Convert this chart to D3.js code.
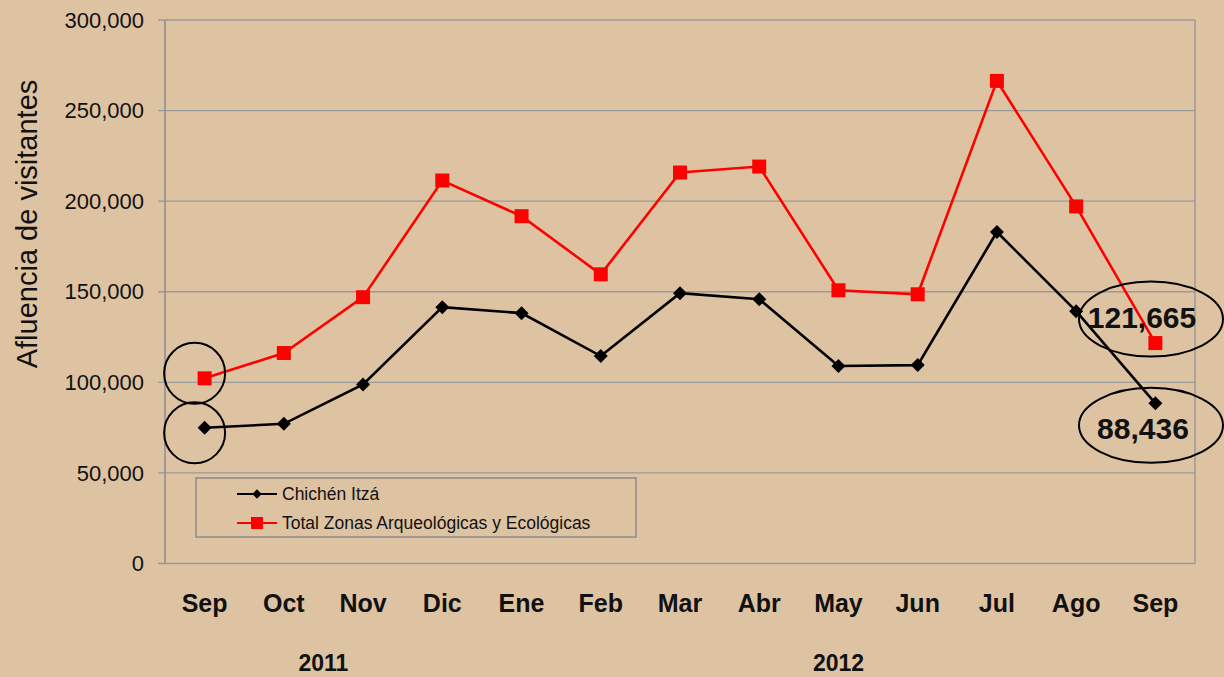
<!DOCTYPE html>
<html lang="es">
<head>
<meta charset="UTF-8">
<title>Afluencia de visitantes</title>
<script src="https://d3js.org/d3.v7.min.js"></script>
<style>
    body { margin: 0; background: #dec3a2; }
    text { font-family: "Liberation Sans", Arial, sans-serif; }
</style>
</head>
<body>
<script>
    // Data
    var months = ["Sep", "Oct", "Nov", "Dic", "Ene", "Feb", "Mar", "Abr", "May", "Jun", "Jul", "Ago", "Sep"];
    var chichen = [74900, 77100, 98800, 141500, 138200, 114500, 149200, 145900, 109000, 109500, 183000, 139300, 88436];
    var total = [102200, 116200, 147000, 211400, 191700, 159600, 215800, 219100, 150800, 148600, 266400, 197100, 121665];
    var yTicks = [0, 50000, 100000, 150000, 200000, 250000, 300000];
    var years = [{ label: "2011", from: 0, to: 3 }, { label: "2012", from: 4, to: 12 }];

    var width = 1224, height = 677;
    var plot = { left: 165, right: 1195, top: 20, bottom: 563.5 };

    var svg = d3.select("body").append("svg")
        .attr("width", width)
        .attr("height", height);

    svg.append("rect").attr("width", width).attr("height", height).attr("fill", "#dec3a2");

    var x = d3.scaleBand().domain(d3.range(months.length)).range([plot.left, plot.right]);
    var y = d3.scaleLinear().domain([0, 300000]).range([plot.bottom, plot.top]);
    var fmt = d3.format(",");

    // gridlines
    svg.append("g").selectAll("line")
        .data(yTicks)
        .join("line")
        .attr("x1", plot.left - 7).attr("x2", plot.right)
        .attr("y1", d => y(d)).attr("y2", d => y(d))
        .attr("stroke", "#9a9a9a").attr("stroke-width", 1.3);

    svg.append("line").attr("x1", plot.left).attr("x2", plot.left).attr("y1", plot.top).attr("y2", plot.bottom)
        .attr("stroke", "#8c8c8c").attr("stroke-width", 1.5);
    svg.append("line").attr("x1", plot.right).attr("x2", plot.right).attr("y1", plot.top).attr("y2", plot.bottom)
        .attr("stroke", "#9a9a9a").attr("stroke-width", 1.5);

    // y tick labels
    svg.append("g").selectAll("text")
        .data(yTicks)
        .join("text")
        .attr("x", plot.left - 21)
        .attr("y", d => y(d))
        .attr("dy", "0.35em")
        .attr("text-anchor", "end")
        .style("font-size", "22px")
        .attr("fill", "#111")
        .text(d => fmt(d));

    svg.append("text")
        .attr("transform", "translate(37,224) rotate(-90)")
        .attr("text-anchor", "middle")
        .style("font-size", "29px")
        .attr("fill", "#111")
        .text("Afluencia de visitantes");

    // x labels
    svg.append("g").selectAll("text")
        .data(months)
        .join("text")
        .attr("x", (d, i) => x(i) + x.bandwidth() / 2)
        .attr("y", 612)
        .attr("text-anchor", "middle")
        .style("font-size", "25px")
        .style("font-weight", "bold")
        .attr("fill", "#111")
        .text(d => d);

    svg.append("g").selectAll("text")
        .data(years)
        .join("text")
        .attr("x", d => (x(d.from) + x(d.to) + x.bandwidth()) / 2)
        .attr("y", 671)
        .attr("text-anchor", "middle")
        .style("font-size", "23px")
        .style("font-weight", "bold")
        .attr("fill", "#111")
        .text(d => d.label);

    var cx = i => x(i) + x.bandwidth() / 2;
    var line = d3.line().x((d, i) => cx(i)).y(d => y(d));

    // series lines
    svg.append("path").datum(total)
        .attr("d", line).attr("fill", "none")
        .attr("stroke", "#ff0000").attr("stroke-width", 2.6);
    svg.append("path").datum(chichen)
        .attr("d", line).attr("fill", "none")
        .attr("stroke", "#000").attr("stroke-width", 2.6);

    // markers
    svg.append("g").selectAll("rect")
        .data(total)
        .join("rect")
        .attr("x", (d, i) => cx(i) - 7)
        .attr("y", d => y(d) - 7)
        .attr("width", 14).attr("height", 14)
        .attr("fill", "#ff0000");

    var diamond = d3.symbol().type(d3.symbolDiamond2).size(125);
    svg.append("g").selectAll("path")
        .data(chichen)
        .join("path")
        .attr("transform", (d, i) => "translate(" + cx(i) + "," + y(d) + ")")
        .attr("d", diamond)
        .attr("fill", "#000");

    // highlight circles around first month
    var first = cx(0) - 10;
    svg.append("circle").attr("cx", first).attr("cy", y(total[0]) - 5).attr("r", 30.5)
        .attr("fill", "none").attr("stroke", "#000").attr("stroke-width", 2);
    svg.append("circle").attr("cx", first).attr("cy", y(chichen[0]) + 5).attr("r", 30.5)
        .attr("fill", "none").attr("stroke", "#000").attr("stroke-width", 2);

    // ellipses with last values
    var last = months.length - 1;
    var callouts = [
        { v: total[last], cy: y(total[last]) - 24, tx: 1142, ty: 317 },
        { v: chichen[last], cy: y(chichen[last]) + 22, tx: 1143, ty: 428 }
    ];
    callouts.forEach(function (c) {
        svg.append("ellipse").attr("cx", 1151).attr("cy", c.cy).attr("rx", 72).attr("ry", 37.5)
            .attr("fill", "none").attr("stroke", "#000").attr("stroke-width", 2);
        svg.append("text")
            .attr("x", c.tx).attr("y", c.ty)
            .attr("dy", "0.35em")
            .attr("text-anchor", "middle")
            .style("font-size", "30px")
            .style("font-weight", "bold")
            .attr("fill", "#111")
            .text(fmt(c.v));
    });

    // legend
    var legend = svg.append("g").attr("transform", "translate(196,478)");
    legend.append("rect").attr("width", 440).attr("height", 59)
        .attr("fill", "none").attr("stroke", "#8c8c8c").attr("stroke-width", 1.5);
    var items = [
        { name: "Chichén Itzá", color: "#000", mark: "diamond" },
        { name: "Total Zonas Arqueológicas y Ecológicas", color: "#ff0000", mark: "square" }
    ];
    items.forEach(function (it, i) {
        var g = legend.append("g").attr("transform", "translate(0," + (16 + i * 29) + ")");
        g.append("line").attr("x1", 41).attr("x2", 81).attr("stroke", it.color).attr("stroke-width", 1.8);
        if (it.mark === "square") {
            g.append("rect").attr("x", 55).attr("y", -6).attr("width", 12).attr("height", 12).attr("fill", it.color);
        } else {
            g.append("path").attr("transform", "translate(61,0)")
                .attr("d", d3.symbol().type(d3.symbolDiamond2).size(55)).attr("fill", it.color);
        }
        g.append("text").attr("x", 86).attr("dy", "0.35em")
            .style("font-size", "17.5px").attr("fill", "#111").text(it.name);
    });
</script>
</body>
</html>
